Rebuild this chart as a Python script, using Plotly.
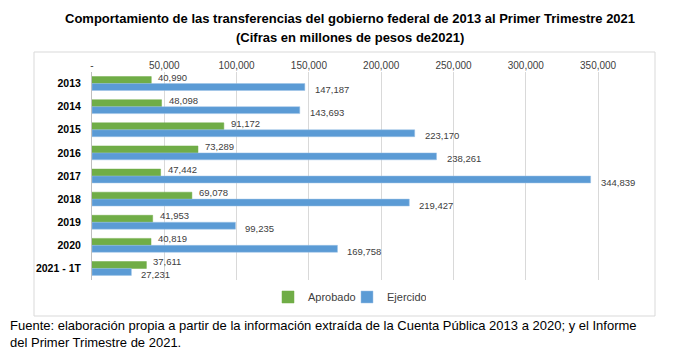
import plotly.graph_objects as go

categories = ["2013", "2014", "2015", "2016", "2017", "2018", "2019", "2020", "2021 - 1T"]
aprobado = [40990, 48098, 91172, 73289, 47442, 69078, 41953, 40819, 37611]
ejercido = [147187, 143693, 223170, 238261, 344839, 219427, 99235, 169758, 27231]
tick_vals = [0, 50000, 100000, 150000, 200000, 250000, 300000, 350000]
tick_text = ["-", "50,000", "100,000", "150,000", "200,000", "250,000", "300,000", "350,000"]

FONT = "Liberation Sans"
L, R, T, B = 92, 66, 72, 81
W, H = 700, 361
pw, ph = W - L - R, H - T - B

def px_x(p):
    return (p - L) / pw

def px_y(p):
    return (H - B - p) / ph

fig = go.Figure()
fig.add_trace(go.Bar(
    y=categories, x=aprobado, orientation="h", name="Aprobado",
    marker=dict(color="#70AD47", line=dict(color="#70AD47", width=0.5)),
))
fig.add_trace(go.Bar(
    y=categories, x=ejercido, orientation="h", name="Ejercido",
    marker=dict(color="#5B9BD5", line=dict(color="#9DC3E6", width=0.5)),
))

# annotations on a category axis use the category's serial index
label_font = dict(family=FONT, size=9.5, color="#404040")
annotations = []
for i, v in enumerate(aprobado):
    annotations.append(dict(x=v, y=i, xref="x", yref="y", text=f"{v:,}", showarrow=False,
                            xanchor="left", yanchor="middle", xshift=5, yshift=6.5, font=label_font))
for i, v in enumerate(ejercido):
    annotations.append(dict(x=v, y=i, xref="x", yref="y", text=f"{v:,}", showarrow=False,
                            xanchor="left", yanchor="middle", xshift=8, yshift=-6, font=label_font))

annotations += [
    dict(text="<b>Comportamiento de las transferencias del gobierno federal de 2013 al Primer Trimestre 2021</b>",
         xref="paper", yref="paper", x=px_x(350), y=px_y(18), xanchor="center", yanchor="middle",
         showarrow=False, font=dict(family=FONT, size=13, color="#000000")),
    dict(text="<b>(Cifras en millones de pesos de2021)</b>",
         xref="paper", yref="paper", x=px_x(350), y=px_y(38), xanchor="center", yanchor="middle",
         showarrow=False, font=dict(family=FONT, size=13, color="#000000")),
    dict(text="Fuente: elaboración propia a partir de la información extraída de la Cuenta Pública 2013 a 2020; y el Informe<br>del Primer Trimestre de 2021.",
         xref="paper", yref="paper", x=px_x(8), y=px_y(334), xanchor="left", yanchor="middle",
         align="left", showarrow=False, font=dict(family=FONT, size=13, color="#000000")),
]

fig.update_layout(
    width=W, height=H,
    margin=dict(l=L, r=R, t=T, b=B, autoexpand=False),
    paper_bgcolor="white", plot_bgcolor="white",
    barmode="group", bargap=0.4, bargroupgap=0,
    font=dict(family=FONT, color="#000000"),
    showlegend=True,
    legend=dict(orientation="h", x=px_x(268), xanchor="left", y=px_y(297), yanchor="middle",
                font=dict(family=FONT, size=11, color="#404040"), itemwidth=30,
                entrywidth=34, entrywidthmode="pixels",
                traceorder="normal", bgcolor="rgba(0,0,0,0)"),
    xaxis=dict(side="top", range=[0, pw / 72.3 * 50000], tickvals=tick_vals, ticktext=tick_text,
               showgrid=True, gridcolor="#D9D9D9", gridwidth=1, zeroline=False,
               tickfont=dict(family=FONT, size=10, color="#404040"), ticks="", showline=False),
    yaxis=dict(type="category", categoryorder="array", categoryarray=categories,
               range=[len(categories) - 0.5, -0.5], autorange=False,
               showline=True, linecolor="#BFBFBF", linewidth=1,
               tickfont=dict(family=FONT, size=10.5, color="#000000"), ticks="",
               ticklabelstandoff=8, tickprefix="<b>", ticksuffix="</b>"),
    shapes=[dict(type="rect", xref="paper", yref="paper", x0=px_x(34), x1=px_x(655),
                 y0=px_y(316), y1=px_y(52), line=dict(color="#D9D9D9", width=1), layer="below")],
    annotations=annotations,
)

fig.write_html("out.html", config={"displayModeBar": False},
               post_script="document.body.style.margin='0';document.body.style.overflow='hidden';")
